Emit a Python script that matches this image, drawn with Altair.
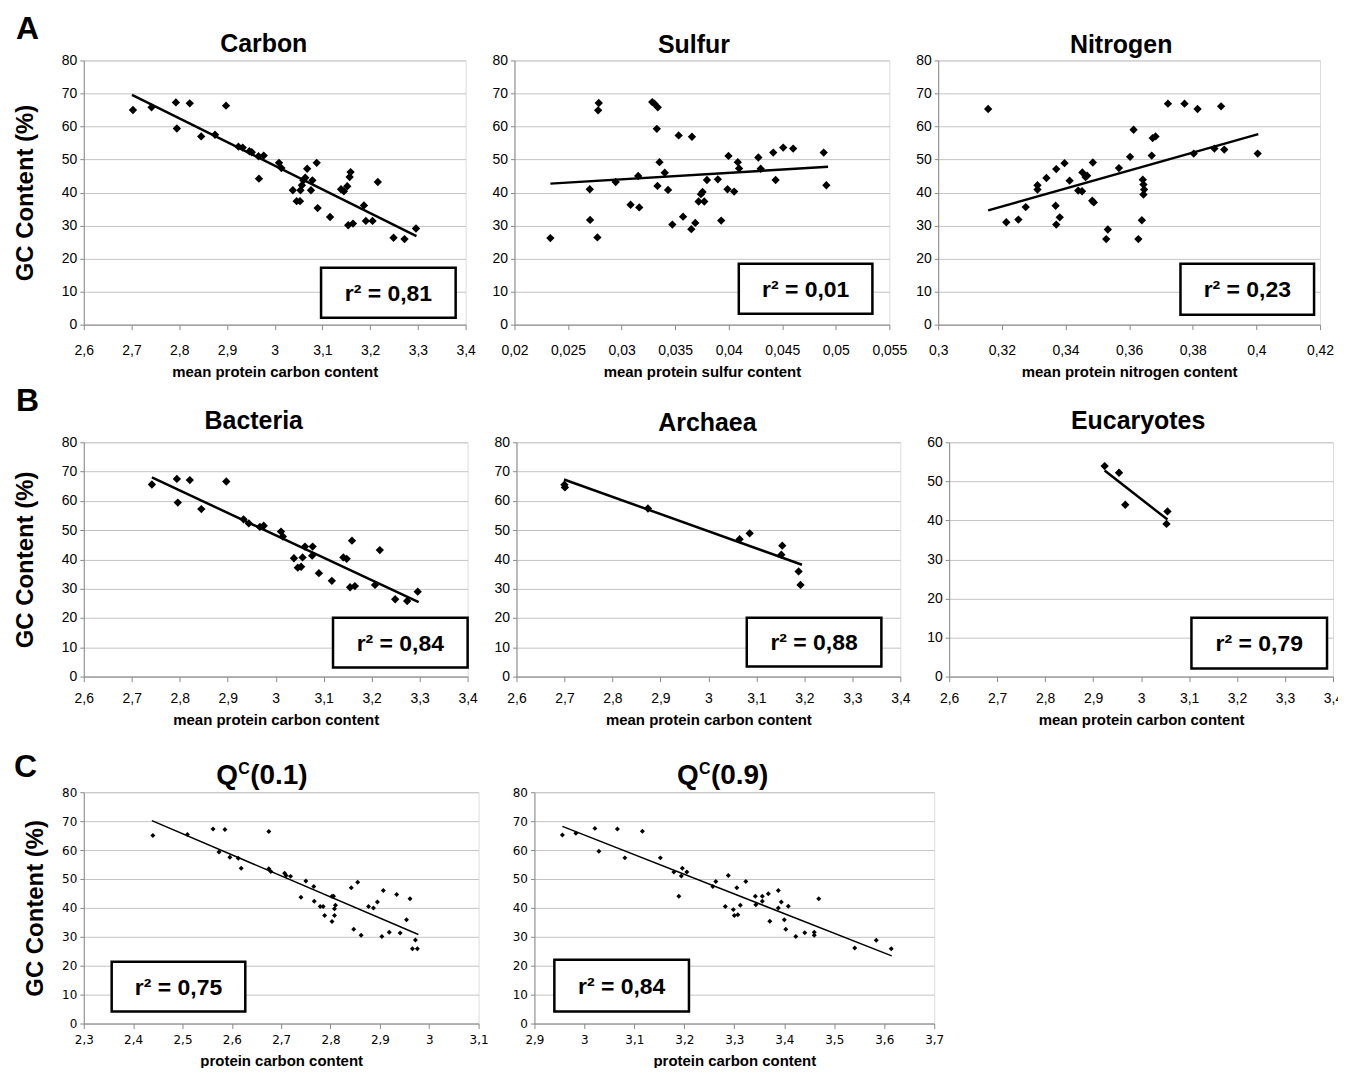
import altair as alt
import pandas as pd

FONT = "Liberation Sans"
LABFONT = "Liberation Sans"
SMALLFONT = "DejaVu Sans"

# ---------------- data ----------------
carbon_x = [2.703, 2.742, 2.793, 2.822, 2.795, 2.846, 2.875, 2.898, 2.924, 2.933, 2.947, 2.952, 2.966, 2.977,
            2.967, 3.009, 3.014, 3.038, 3.046, 3.053, 3.054, 3.057, 3.060, 3.064, 3.068, 3.076, 3.079, 3.088,
            3.090, 3.116, 3.139, 3.145, 3.152, 3.157, 3.159, 3.154, 3.164, 3.187, 3.191, 3.205, 3.216, 3.249,
            3.272, 3.296]
carbon_y = [65.0, 65.8, 67.3, 67.0, 59.4, 57.0, 57.5, 66.3, 53.9, 53.6, 52.5, 52.2, 51.0, 51.2, 44.2, 49.0,
            47.4, 40.7, 37.4, 37.4, 40.7, 42.2, 43.7, 44.5, 47.2, 40.7, 43.7, 49.0, 35.3, 32.6, 41.0, 40.4,
            41.9, 44.7, 46.2, 30.1, 30.6, 36.1, 31.4, 31.4, 43.2, 26.3, 25.9, 29.1]
carbon_fit_x = [2.701, 3.297]
carbon_fit_y = [69.6, 26.8]

sulfur_x = [0.02335, 0.02703, 0.02706, 0.02774, 0.02781, 0.02787, 0.02945, 0.03084, 0.03155, 0.03165,
            0.03286, 0.03307, 0.03338, 0.03329, 0.03354, 0.03335, 0.03403, 0.03434, 0.03474, 0.03533,
            0.03574, 0.03657, 0.03651, 0.03688, 0.03719, 0.03741, 0.03756, 0.03772, 0.03797, 0.03899,
            0.03930, 0.03998, 0.03989, 0.04051, 0.04085, 0.04097, 0.04277, 0.04299, 0.04416, 0.04438,
            0.04509, 0.04602, 0.04887, 0.04912]
sulfur_y = [26.2, 41.0, 31.7, 26.4, 64.9, 67.1, 43.2, 36.3, 45.0, 35.5, 67.4, 66.9, 65.8, 59.3, 49.2, 42.0,
            46.0, 40.8, 30.3, 57.3, 32.7, 56.9, 28.9, 30.8, 37.3, 39.5, 40.2, 37.3, 43.8, 44.0, 31.5, 51.1,
            41.0, 40.3, 49.2, 47.3, 50.6, 47.2, 52.1, 43.8, 53.6, 53.3, 52.1, 42.2]
sulfur_fit_x = [0.02335, 0.04928]
sulfur_fit_y = [42.7, 47.8]

nitrogen_x = [0.3157, 0.3214, 0.3252, 0.3275, 0.3312, 0.3312, 0.3340, 0.3371, 0.3369, 0.3371, 0.3382,
              0.3397, 0.3413, 0.3440, 0.3452, 0.3453, 0.3463, 0.3468, 0.3486, 0.3484, 0.3489, 0.3528,
              0.3533, 0.3568, 0.3603, 0.3614, 0.3629, 0.3640, 0.3643, 0.3645, 0.3647, 0.3645, 0.3671,
              0.3674, 0.3683, 0.3722, 0.3774, 0.3815, 0.3803, 0.3868, 0.3889, 0.3899, 0.4004]
nitrogen_y = [65.3, 31.0, 31.8, 35.6, 42.2, 40.9, 44.4, 47.1, 36.0, 30.3, 32.5, 48.9, 43.6, 40.6, 40.4,
              46.1, 44.7, 45.1, 49.1, 37.5, 37.0, 25.9, 28.8, 47.4, 50.8, 59.0, 25.9, 31.6, 43.9, 42.4,
              40.9, 39.4, 51.2, 56.5, 57.0, 66.9, 66.9, 65.3, 51.8, 53.3, 66.1, 53.0, 51.8]
nitrogen_fit_x = [0.3157, 0.4006]
nitrogen_fit_y = [34.6, 57.7]

bacteria_x = [2.742, 2.794, 2.821, 2.796, 2.845, 2.897, 2.933, 2.944, 2.967, 2.975, 3.011, 3.015, 3.038,
              3.046, 3.053, 3.056, 3.061, 3.077, 3.076, 3.090, 3.117, 3.141, 3.148, 3.159, 3.155, 3.165,
              3.207, 3.217, 3.249, 3.274, 3.296]
bacteria_y = [65.6, 67.5, 67.1, 59.4, 57.2, 66.6, 53.7, 52.3, 51.1, 51.5, 49.5, 47.8, 40.4, 37.2, 37.5,
              40.7, 44.4, 44.4, 41.3, 35.3, 32.7, 40.7, 40.2, 46.4, 30.5, 30.9, 31.3, 43.2, 26.4, 25.8, 29.0]
bacteria_fit_x = [2.742, 3.298]
bacteria_fit_y = [68.0, 25.4]

archaea_x = [2.700, 2.701, 2.874, 3.065, 3.086, 3.154, 3.152, 3.188, 3.192]
archaea_y = [65.5, 64.6, 57.4, 46.9, 48.9, 44.7, 41.6, 35.9, 31.3]
archaea_fit_x = [2.699, 3.195]
archaea_fit_y = [67.3, 38.2]

eucaryotes_x = [2.924, 2.954, 2.967, 3.055, 3.053]
eucaryotes_y = [53.9, 52.2, 44.0, 42.3, 39.1]
eucaryotes_fit_x = [2.924, 3.055]
eucaryotes_fit_y = [52.8, 40.2]

q01_x = [2.440, 2.510, 2.562, 2.586, 2.574, 2.596, 2.613, 2.619, 2.675, 2.675, 2.679, 2.707, 2.710, 2.719,
         2.750, 2.766, 2.740, 2.767, 2.779, 2.785, 2.788, 2.803, 2.806, 2.808, 2.810, 2.808, 2.803, 2.842,
         2.855, 2.847, 2.862, 2.877, 2.887, 2.895, 2.907, 2.904, 2.919, 2.934, 2.941, 2.954, 2.961, 2.972,
         2.966, 2.976]
q01_y = [65.0, 65.4, 67.3, 67.1, 59.3, 57.5, 57.2, 53.7, 66.4, 53.5, 52.6, 52.0, 51.2, 50.9, 49.3, 47.4,
         43.7, 42.3, 40.5, 40.5, 37.4, 44.0, 44.0, 39.7, 40.9, 37.4, 35.3, 47.0, 48.9, 32.6, 30.5, 40.5,
         40.0, 42.0, 46.0, 30.1, 31.6, 44.6, 31.3, 35.9, 43.2, 28.9, 25.9, 25.9]
q01_fit_x = [2.438, 2.978]
q01_fit_y = [70.2, 30.8]

q09_x = [2.956, 2.983, 3.021, 3.029, 3.066, 3.081, 3.116, 3.152, 3.179, 3.196, 3.194, 3.205, 3.189, 3.257,
         3.263, 3.288, 3.282, 3.298, 3.300, 3.307, 3.305, 3.312, 3.323, 3.342, 3.343, 3.356, 3.356, 3.368,
         3.371, 3.388, 3.388, 3.394, 3.408, 3.400, 3.403, 3.423, 3.441, 3.460, 3.460, 3.469, 3.541, 3.584,
         3.614]
q09_y = [65.2, 65.8, 67.5, 59.6, 67.3, 57.3, 66.5, 57.3, 52.4, 53.7, 51.0, 52.4, 44.0, 47.4, 49.1, 51.2,
         40.5, 39.4, 37.4, 37.6, 47.0, 40.9, 49.1, 44.0, 41.1, 44.0, 42.3, 44.9, 35.4, 46.0, 40.0, 42.0,
         40.6, 35.9, 32.6, 30.1, 31.4, 31.6, 30.5, 43.2, 26.1, 28.8, 25.9]
q09_fit_x = [2.956, 3.615]
q09_fit_y = [68.2, 23.4]

carbon_ticks = [2.6, 2.7, 2.8, 2.9, 3.0, 3.1, 3.2, 3.3, 3.4]
sulfur_ticks = [0.02, 0.025, 0.03, 0.035, 0.04, 0.045, 0.05, 0.055]
nitrogen_ticks = [0.30, 0.32, 0.34, 0.36, 0.38, 0.40, 0.42]
q01_ticks = [2.3, 2.4, 2.5, 2.6, 2.7, 2.8, 2.9, 3.0, 3.1]
q09_ticks = [2.9, 3.0, 3.1, 3.2, 3.3, 3.4, 3.5, 3.6, 3.7]

GRAY = "#8a8a8a"
LABEL_EXPR = "replace(format(datum.value, '.4~f'), '.', ',')"
ONE = pd.DataFrame({"k": [0]})


def text_layer(text, x, y, size, align="left", baseline="alphabetic"):
    return alt.Chart(ONE).mark_text(text=text, font=FONT, fontSize=size, fontWeight="bold", color="black",
                                    align=align, baseline=baseline).encode(x=alt.value(x), y=alt.value(y))


def panel(xs, ys, fx, fy, ticks, ymax, xtitle, r2, box, w, h, row,
          title=None, title_dx=0, title_y=-8, ytitle=False, letter=None, qtitle=None, top_room=None):
    small = row == "C"
    pts = pd.DataFrame({"x": xs, "y": ys})
    fit = pd.DataFrame({"x": fx, "y": fy})
    yvals = list(range(0, ymax + 1, 10))
    xaxis = alt.Axis(values=ticks, tickCount=len(ticks), labelExpr=LABEL_EXPR, title=xtitle, grid=False,
                     tickSize=5, tickColor=GRAY, domainColor=GRAY,
                     labelFont=SMALLFONT if small else LABFONT, labelFontSize=12 if small else 14,
                     labelColor="black", labelPadding=(6 if small else (14 if row == "A" else 10)),
                     labelFlush=False, labelOverlap=False,
                     titleFont=FONT, titleFontSize=15, titleFontWeight="bold", titleColor="black",
                     titlePadding=(8 if small else 7))
    ykw = dict(values=yvals, tickCount=len(yvals), grid=True, gridColor="#c4c4c4", gridWidth=1,
               tickSize=4, tickColor=GRAY, domainColor=GRAY, labelOverlap=False,
               labelFont=SMALLFONT if small else LABFONT, labelFontSize=12 if small else 14,
               labelColor="black", labelPadding=3, labelFlush=False)
    if ytitle:
        ykw.update(title="GC Content (%)", titleFont=FONT, titleFontSize=24, titleFontWeight="bold",
                   titleColor="black", titlePadding=(14 if small else 24))
    else:
        ykw.update(title=None)
    yaxis = alt.Axis(**ykw)

    points = alt.Chart(pts).mark_point(shape="diamond", filled=True, color="black", opacity=1,
                                       size=(25 if small else 70)).encode(
        x=alt.X("x:Q", scale=alt.Scale(domain=[ticks[0], ticks[-1]], nice=False, zero=False), axis=xaxis),
        y=alt.Y("y:Q", scale=alt.Scale(domain=[0, ymax], nice=False, zero=True), axis=yaxis),
    )
    line = alt.Chart(fit).mark_line(color="black", strokeWidth=(1.5 if small else 2.5)).encode(
        x="x:Q", y="y:Q")
    rect = alt.Chart(ONE).mark_rect(fill="white", stroke="black", strokeWidth=2.5).encode(
        x=alt.value(box[0]), x2=alt.value(box[2]), y=alt.value(box[1]), y2=alt.value(box[3]))
    txt = text_layer(r2, (box[0] + box[2]) / 2, (box[1] + box[3]) / 2 + 1, 23, align="center",
                     baseline="middle")
    layers = [points, line, rect, txt]
    if title is not None:
        layers.append(text_layer(title, w / 2 + title_dx, title_y, 25, align="center"))
    if letter is not None:
        layers.append(text_layer(letter[0], letter[1], letter[2], 32))
    if qtitle is not None:
        x0, label = qtitle
        layers.append(text_layer("Q", x0, -8, 28))
        layers.append(text_layer("C", x0 + 22, -18, 16))
        layers.append(text_layer(label, x0 + 34, -8, 28))
    if top_room is not None:
        # invisible rule reserving vertical room above the panel
        layers.append(alt.Chart(ONE).mark_rule(strokeOpacity=0).encode(
            x=alt.value(w / 2), y=alt.value(top_room), y2=alt.value(-5)))
    return alt.layer(*layers).properties(width=w, height=h)


cA1 = panel(carbon_x, carbon_y, carbon_fit_x, carbon_fit_y, carbon_ticks, 80,
            "mean protein carbon content", "r² = 0,81", (238, 208, 373, 258), 383, 265, "A",
            title="Carbon", title_dx=-11, title_y=-8, ytitle=True, letter=("A", -68, -22))
cA2 = panel(sulfur_x, sulfur_y, sulfur_fit_x, sulfur_fit_y, sulfur_ticks, 80,
            "mean protein sulfur content", "r² = 0,01", (225, 204, 359, 254), 376, 265, "A",
            title="Sulfur", title_dx=-8, title_y=-7)
cA3 = panel(nitrogen_x, nitrogen_y, nitrogen_fit_x, nitrogen_fit_y, nitrogen_ticks, 80,
            "mean protein nitrogen content", "r² = 0,23", (243, 204, 377, 255), 383, 265, "A",
            title="Nitrogen", title_dx=-8, title_y=-7)

cB1 = panel(bacteria_x, bacteria_y, bacteria_fit_x, bacteria_fit_y, carbon_ticks, 80,
            "mean protein carbon content", "r² = 0,84", (250, 176, 385, 226), 385, 235, "B",
            title="Bacteria", title_dx=-22, title_y=-13, ytitle=True, letter=("B", -68, -31))
cB2 = panel(archaea_x, archaea_y, archaea_fit_x, archaea_fit_y, carbon_ticks, 80,
            "mean protein carbon content", "r² = 0,88", (231, 176, 366, 225), 385, 235, "B",
            title="Archaea", title_dx=-1, title_y=-11)
cB3 = panel(eucaryotes_x, eucaryotes_y, eucaryotes_fit_x, eucaryotes_fit_y, carbon_ticks, 60,
            "mean protein carbon content", "r² = 0,79", (243, 176, 379, 227), 385, 235, "B",
            title="Eucaryotes", title_dx=-3, title_y=-13)

cC1 = panel(q01_x, q01_y, q01_fit_x, q01_fit_y, q01_ticks, 80,
            "protein carbon content", "r² = 0,75", (28, 170, 162, 220), 396, 232, "C",
            ytitle=True, letter=("C", -70, -15), qtitle=(133, "(0.1)"), top_room=-59)
cC2 = panel(q09_x, q09_y, q09_fit_x, q09_fit_y, q09_ticks, 80,
            "protein carbon content", "r² = 0,84", (20, 168, 155, 220), 401, 232, "C",
            qtitle=(143, "(0.9)"))

rowA = alt.hconcat(cA1, cA2, cA3, spacing=49, bounds="flush")
rowB = alt.hconcat(cB1, cB2, cB3, spacing=49, bounds="flush")
rowC = alt.hconcat(cC1, cC2, spacing=56, bounds="flush")

chart = alt.vconcat(rowA, rowB, rowC, spacing=4).properties(
    padding={"left": 4, "top": 2, "right": -6, "bottom": -3}
).configure_view(stroke="#a8a8a8", strokeWidth=1).configure(background="white")

chart.save("out.html", embed_options={"renderer": "svg", "actions": False})
